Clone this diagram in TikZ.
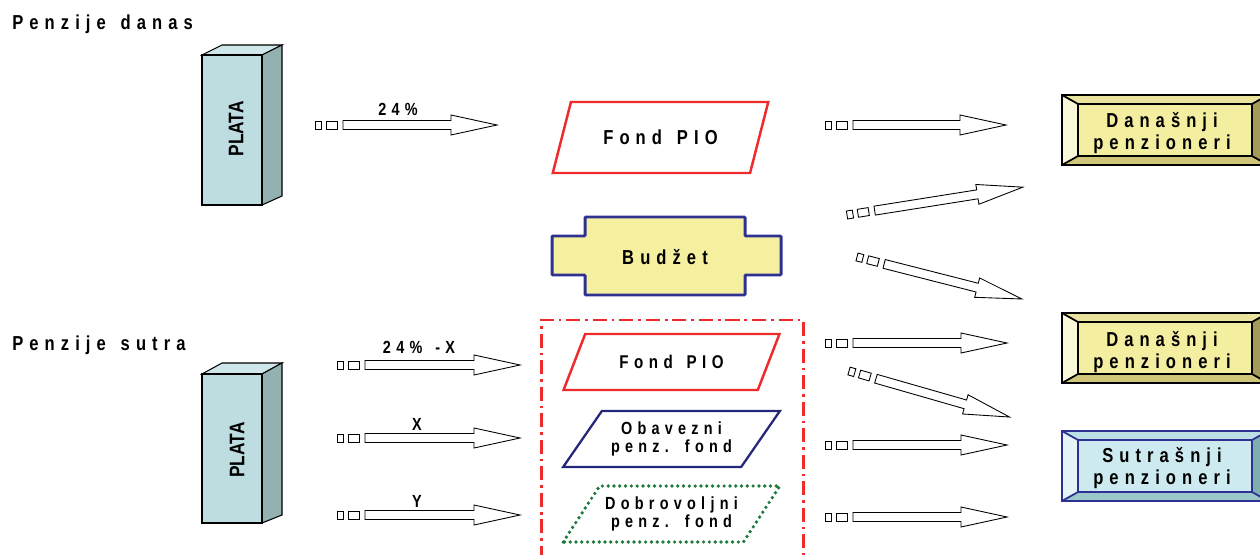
\documentclass[tikz,border=0pt]{standalone}
\usepackage{fontspec}
\usepackage{xcolor}
\usetikzlibrary{shapes.geometric}
\newfontfamily\lblfont[LetterSpace=30,FakeStretch=0.82,WordSpace=1.4]{Liberation Sans}
\newfontfamily\platafont[FakeStretch=0.82]{Liberation Sans}
\definecolor{platafront}{HTML}{BDDDE0}
\definecolor{platatop}{HTML}{CFE7EA}
\definecolor{plataside}{HTML}{93B1B1}
\definecolor{pioRed}{HTML}{EE2A2A}
\definecolor{fondNavy}{HTML}{25287A}
\definecolor{budzetBlue}{HTML}{2E3192}
\definecolor{budzetFill}{HTML}{F5F0A0}
\definecolor{fondGreen}{HTML}{1E7B3C}
\definecolor{yelface}{HTML}{F4EEA0}
\definecolor{yelleft}{HTML}{FBF8D8}
\definecolor{yeltop}{HTML}{E9E39E}
\definecolor{yelbottom}{HTML}{CFC67A}
\definecolor{yelright}{HTML}{A49B5A}
\definecolor{bluface}{HTML}{CDEAF0}
\definecolor{bluleft}{HTML}{E4F4F7}
\definecolor{blutop}{HTML}{BCDFE5}
\definecolor{blubottom}{HTML}{9CC8CC}
\definecolor{bluright}{HTML}{7FAEB0}
\tikzset{
  lbl/.style={font=\lblfont\bfseries\fontsize{11.5}{12.5}\selectfont, inner sep=0pt},
  lblsmall/.style={font=\lblfont\bfseries\fontsize{10}{10.5}\selectfont, inner sep=0pt},
  lblfund/.style={font=\lblfont\bfseries\fontsize{10.5}{10.5}\selectfont, inner sep=0pt},
  lblbox/.style={lbl, align=center, anchor=north},
  platalbl/.style={font=\platafont\bfseries\fontsize{12}{14}\selectfont, inner sep=0pt, rotate=90},
  platabox/.style={draw=black, line width=0.6pt},
  arrowline/.style={draw=black, line width=0.5pt, fill=white},
  fondshape/.style={trapezium, trapezium stretches=true, minimum width=4.34cm, inner sep=0pt, align=center},
  pics/flatarrow/.style={code={
    \draw[arrowline] (0,-4) rectangle (6,4);
    \draw[arrowline] (11,-4) rectangle (22,4);
    \draw[arrowline] (28,-4.5) -- ({#1-46},-4.5) -- ({#1-46},-10) -- (#1,0)
      -- ({#1-46},10) -- ({#1-46},4.5) -- (28,4.5) -- cycle;
  }},
  pics/bevel/.style 2 args={code={
    \fill[#1top] (0,0) -- (206,0) -- (190,9) -- (16,9) -- cycle;
    \fill[#1bottom] (0,70) -- (16,61) -- (190,61) -- (206,70) -- cycle;
    \fill[#1left] (0,0) -- (16,9) -- (16,61) -- (0,70) -- cycle;
    \fill[#1right] (206,0) -- (190,9) -- (190,61) -- (206,70) -- cycle;
    \fill[#1face] (16,9) rectangle (190,61);
    \draw[#2, line width=1.4pt] (0,0) rectangle (206,70);
    \draw[#2, line width=1pt] (16,9) rectangle (190,61)
      (0,0) -- (16,9) (206,0) -- (190,9) (0,70) -- (16,61) (206,70) -- (190,61);
  }}
}
\begin{document}
\begin{tikzpicture}[x=0.02cm,y=-0.02cm]
\useasboundingbox (0,0) rectangle (1260,554);

% Headings
\node[lbl, anchor=base west] (danas) at (12,30) {Penzije danas};
\node[lbl, anchor=base west] (sutra) at (12,350) {Penzije sutra};

% PLATA, upper
\filldraw[platabox, fill=platatop] (202,55) -- (222,45) -- (282,45) -- (262,55) -- cycle;
\filldraw[platabox, fill=plataside] (262,55) -- (282,45) -- (282,196) -- (262,205) -- cycle;
\filldraw[platabox, fill=platafront] (202,55) rectangle (262,205);
\node[platalbl] (plata1) at (236,129) {PLATA};

% PLATA, lower
\filldraw[platabox, fill=platatop] (202,374) -- (222,363) -- (282,363) -- (262,374) -- cycle;
\filldraw[platabox, fill=plataside] (262,374) -- (282,363) -- (282,515) -- (262,523) -- cycle;
\filldraw[platabox, fill=platafront] (202,374) rectangle (262,523);
\node[platalbl] (plata2) at (237,450) {PLATA};

% Upper Fond PIO and Budzet
\node[fondshape, draw=pioRed, line width=1.4pt, trapezium left angle=52,
  trapezium right angle=128, minimum height=1.42cm, lbl] (pio1) at (660.5,137.5) {Fond PIO};
\draw[budzetBlue, fill=budzetFill, line width=1.7pt, rounded corners=0.5pt]
  (585,217) -- (745,217) -- (745,236) -- (781,236) -- (781,275) -- (745,275)
  -- (745,295) -- (585,295) -- (585,275) -- (552,275) -- (552,236) -- (585,236) -- cycle;
\node[lbl] (budzet) at (665,257) {Budžet};

% Frame round the lower funds
\draw[pioRed, line width=1.7pt, dash pattern=on 8pt off 2.8pt on 1.5pt off 2.8pt]
  (541,560) -- (541,320) -- (803,320) -- (803,560);

% Lower funds
\node[fondshape, draw=pioRed, line width=1.4pt, trapezium left angle=46,
  trapezium right angle=134, minimum height=1.12cm, lblfund] (pio2) at (671.5,362) {Fond PIO};
\node[fondshape, draw=fondNavy, line width=1.3pt, trapezium left angle=46,
  trapezium right angle=134, minimum height=1.12cm, lblsmall] (obavezni) at (671.5,439)
  {Obavezni\\penz. fond};
\node[fondshape, draw=fondGreen, line width=2.1pt, dash pattern=on 0pt off 3.3pt,
  line cap=round, trapezium left angle=46, trapezium right angle=134,
  minimum height=1.12cm, lblsmall] (dobrovoljni) at (671.5,514) {Dobrovoljni\\penz. fond};

% Pension boxes
\pic at (1062,95) {bevel={yel}{black}};
\node[lblbox] (danasnji1) at (1162,112) {Današnji\\penzioneri};
\pic at (1062,313) {bevel={yel}{black}};
\node[lblbox] (danasnji2) at (1162,331) {Današnji\\penzioneri};
\pic at (1062,431) {bevel={blu}{budzetBlue}};
\node[lblbox] (sutrasnji) at (1162,447) {Sutrašnji\\penzioneri};

% Arrows, upper
\pic at (315,125) {flatarrow=182};
\node[lblsmall, anchor=base] (p24) at (398,115) {24\%};
\pic at (825,125) {flatarrow=181};
\pic[rotate=9] at (847,215) {flatarrow=178};
\pic[rotate=-14.3] at (857,257) {flatarrow=170};

% Arrows, lower
\pic at (337,365) {flatarrow=183};
\node[lblsmall, anchor=base] (p24x) at (419,353) {24\% -X};
\pic at (337,438) {flatarrow=183};
\node[lblsmall, anchor=base] (px) at (417,430) {X};
\pic at (337,515) {flatarrow=183};
\node[lblsmall, anchor=base] (py) at (417,507) {Y};
\pic at (825,343) {flatarrow=182};
\pic[rotate=-16] at (849,371) {flatarrow=167};
\pic at (825,445) {flatarrow=182};
\pic at (825,517) {flatarrow=182};
\end{tikzpicture}
\end{document}
